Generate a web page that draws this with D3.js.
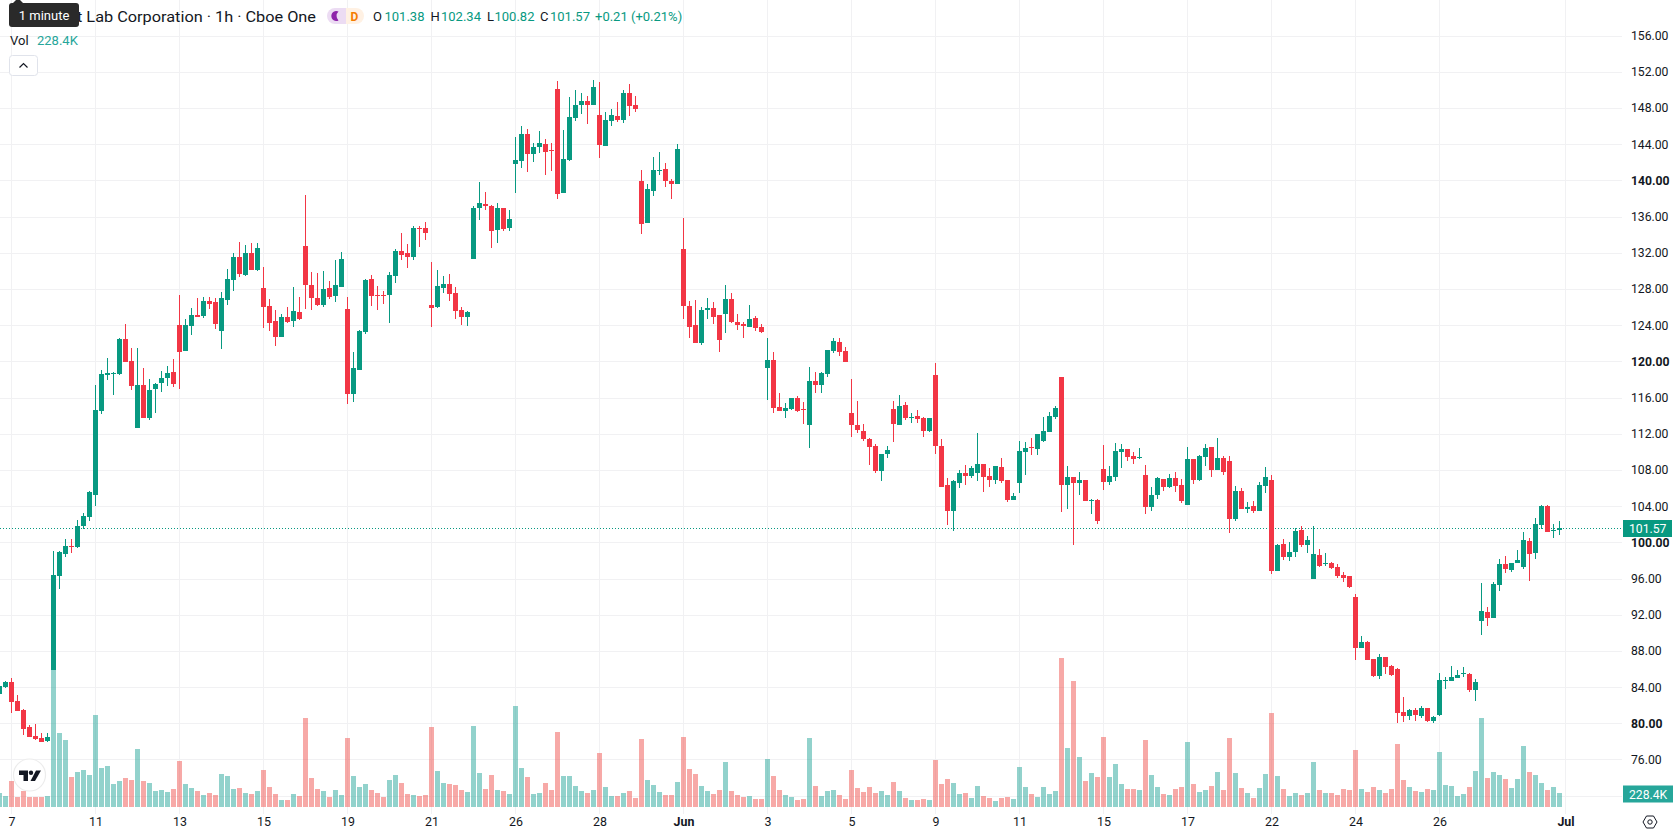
<!DOCTYPE html>
<html>
<head>
<meta charset="utf-8">
<script src="https://cdn.jsdelivr.net/npm/d3@7"></script>
<style>
  html, body { margin: 0; padding: 0; background: #fff; overflow: hidden; }
  svg { display: block; font-family: Roboto, sans-serif; }
</style>
</head>
<body>
<svg id="chart" width="1678" height="835"></svg>
<script>
// Hourly session candles, oldest first
const opens = [
  83.26,84.04,84.59,82.48,81.48,79.59,78.59,78.37,78.04,85.93,
  96.26,98.7,99.6,99.48,101.81,102.81,105.26,114.48,118.52,118.6,
  118.63,122.41,120.07,112.63,117.41,113.74,116.96,117.63,118.19,118.85,
  123.96,121.19,123.89,125.1,124.96,126.63,126.52,123.3,126.74,128.96,
  131.52,129.52,131.96,130.07,128.07,126.07,124.41,122.74,124.85,124.41,
  125.41,132.74,128.41,126.96,126.19,128.07,127.19,128.19,125.74,116.41,
  119.07,123.19,129.07,127.3,127.3,127.3,129.41,132.19,131.96,131.52,
  134.72,134.7,126.26,126.04,128.15,128.59,127.59,125.7,124.93,131.26,
  136.93,137.37,137.15,134.48,136.93,134.7,141.81,142.15,145.15,142.93,
  143.7,144.04,143.4,150.04,138.59,142.26,146.93,148.37,148.81,148.37,
  147.26,143.81,146.6,147.15,146.7,149.6,148.37,139.93,135.26,138.81,
  141.04,141.26,139.93,139.59,132.37,126.15,124.04,122.04,125.7,125.93,
  125.15,125.26,126.93,124.37,124.15,123.81,124.81,123.81,119.26,120.15,
  114.93,114.48,114.7,115.93,114.7,112.93,117.81,117.37,118.59,121.15,
  122.15,121.15,114.26,112.93,112.26,111.37,110.59,107.93,109.81,114.7,
  112.93,115.15,113.7,113.93,113.7,112.26,118.48,110.59,106.37,103.48,
  106.59,107.7,107.37,107.7,108.7,107.37,106.93,108.37,106.93,104.7,
  106.59,109.93,110.5,110.26,111.15,112.15,113.81,118.26,106.37,107.26,
  106.59,106.93,104.6,104.7,108.15,106.7,107.26,109.93,110.26,109.59,
  109.3,107.48,103.93,105.26,107.04,106.15,107.15,106.37,104.15,109.15,
  106.93,109.48,110.48,108.04,109.37,108.93,102.59,105.7,103.7,104.04,
  103.48,106.26,106.93,96.81,99.81,98.37,98.93,101.37,99.7,95.93,
  98.59,97.6,97.7,97.26,96.37,96.26,93.93,88.37,88.93,87.15,
  85.26,87.37,86.37,86.04,81.26,80.81,81.48,80.81,81.7,80.26,
  80.93,84.7,84.7,85.04,85.48,85.48,83.7,91.26,92.26,91.59,
  95.26,97.59,96.93,97.7,97.26,100.15,98.81,101.93,104.04,101.26,101.38
];
const closes = [
  84.15,84.59,82.37,81.37,79.37,78.48,78.26,77.93,78.48,96.37,
  98.93,99.59,99.5,101.81,102.93,105.59,114.59,118.59,118.74,118.7,
  122.41,119.96,117.3,117.41,113.74,116.85,117.52,118.19,118.74,117.52,
  121.07,123.96,125.1,124.89,126.63,126.3,124.07,126.96,129.07,131.52,
  129.63,131.96,130.07,132.52,125.96,124.19,122.74,124.85,124.3,125.52,
  124.63,128.41,126.96,126.19,127.96,127.07,128.41,131.3,116.41,119.3,
  123.3,128.96,127.19,127.19,127.19,129.52,132.19,131.74,131.52,134.7,
  134.62,134.15,125.93,128.37,128.59,127.48,125.59,124.93,125.48,136.93,
  137.48,137.15,134.37,136.93,134.59,135.7,142.26,145.15,142.93,143.7,
  144.15,143.15,143.3,138.48,142.37,147.04,148.37,148.81,148.37,150.26,
  143.93,146.7,147.26,146.7,149.7,148.26,147.93,135.15,139.04,141.15,
  141.15,139.93,139.59,143.48,126.15,123.81,122.04,125.7,125.93,124.93,
  122.37,126.93,124.37,124.04,123.93,124.7,123.7,123.26,120.15,114.81,
  114.48,114.81,115.93,114.48,114.6,117.81,117.37,118.7,121.26,122.26,
  121.04,119.93,112.93,112.37,111.37,110.48,107.93,109.81,110.15,113.04,
  115.04,113.7,113.81,113.59,112.26,113.7,110.59,106.15,103.48,106.81,
  107.7,107.37,108.26,108.7,107.26,106.93,108.48,106.81,104.7,105.15,
  110.04,110.37,110.4,111.93,112.26,113.93,114.81,106.37,107.26,106.59,
  106.93,104.59,104.7,102.37,106.7,107.37,110.04,110.26,109.48,109.15,
  109.4,103.93,105.26,107.15,106.15,107.15,106.26,104.59,109.15,106.93,
  109.59,110.37,108.04,109.26,107.81,102.59,105.7,103.7,103.93,103.48,
  106.37,107.26,96.81,99.7,98.37,98.93,101.26,99.7,100.26,98.7,
  97.37,97.7,97.15,96.26,96.04,95.04,88.37,88.93,87.04,85.26,
  87.37,86.26,85.37,81.15,80.81,81.48,80.93,81.7,80.26,80.7,
  84.81,84.81,85.15,85.37,85.6,83.7,84.59,92.37,91.59,95.37,
  97.59,97.04,97.7,98.04,100.26,98.7,102.04,104.04,101.15,101.37,101.57
];
const highs = [
  84.2,84.62,85.04,83.15,81.59,79.81,79.93,78.93,78.93,99.04,
  99.04,100.37,100.37,102.48,103.26,105.7,117.37,119.04,120.41,118.8,
  122.52,124.07,121.52,121.52,119.3,118.07,117.6,118.96,119.52,120.3,
  127.3,124.63,125.89,126.96,127.07,127.07,126.96,127.63,130.19,131.96,
  133.19,132.85,133.07,133.07,130.4,126.85,125.63,125.19,125.96,128.19,
  127.07,138.4,129.85,129.74,129.96,128.85,131.19,132.07,127.07,121.07,
  123.41,129.07,129.52,128.3,127.74,129.85,132.41,134.19,132.96,135.0,
  135.0,135.37,130.93,130.04,129.48,129.7,128.26,126.04,125.6,137.15,
  139.81,138.7,137.26,137.48,136.93,136.7,144.8,146.04,145.7,144.15,
  145.48,144.6,144.15,150.93,145.59,149.15,149.93,149.7,149.26,151.04,
  150.81,147.6,147.93,148.6,149.93,150.6,149.26,141.15,139.59,142.59,
  143.15,141.93,140.15,144.04,135.81,126.7,126.81,126.04,127.04,126.6,
  125.15,128.48,127.6,125.26,124.37,126.26,125.04,124.15,122.59,121.04,
  116.48,115.37,115.93,116.15,115.48,119.37,118.81,118.81,121.26,122.59,
  122.59,121.59,118.04,115.59,113.04,111.48,110.81,109.81,110.59,115.59,
  116.26,115.48,114.26,114.59,113.81,113.7,119.81,111.4,107.15,106.93,
  108.04,108.59,108.48,112.04,108.7,108.26,108.48,109.37,106.93,105.48,
  111.15,111.04,111.48,111.93,113.81,114.37,115.04,118.26,108.48,107.26,
  107.8,106.93,104.8,104.81,110.7,108.48,110.93,110.81,110.3,109.93,
  110.37,108.59,106.15,107.26,107.04,107.59,107.81,107.04,110.48,109.15,
  109.7,110.81,110.48,111.48,109.59,109.59,106.26,106.04,104.48,104.59,
  106.7,108.37,107.48,99.81,100.37,100.04,101.59,101.81,100.7,101.81,
  99.26,98.81,97.81,97.59,96.7,96.26,94.26,89.7,89.04,87.15,
  87.7,87.37,86.48,86.15,82.93,81.6,81.7,81.93,81.7,80.81,
  85.6,85.15,86.37,85.93,86.26,85.6,84.93,95.48,92.81,95.59,
  98.15,98.48,97.7,99.15,101.15,100.48,102.7,104.15,104.15,102.04,102.34
];
const lows = [
  83.2,83.93,81.19,81.37,78.7,78.48,78.15,77.93,77.93,85.9,
  94.81,98.37,98.81,99.37,101.5,102.37,104.04,114.15,117.96,116.3,
  118.52,119.96,116.85,112.63,113.74,113.52,114.3,116.63,117.3,117.19,
  116.96,121.19,122.89,124.89,124.74,125.74,123.52,121.41,126.19,127.74,
  129.3,129.41,130.07,129.96,123.63,123.3,121.74,122.63,124.19,123.74,
  124.52,125.74,125.63,126.07,125.96,126.85,126.52,128.19,115.3,115.52,
  119.07,123.07,126.07,125.63,126.3,124.19,128.63,131.19,130.3,131.19,
  132.67,133.37,123.81,125.93,127.59,126.7,124.7,124.04,123.93,131.26,
  135.59,136.7,132.48,133.04,134.37,134.37,138.6,141.37,140.93,142.04,
  143.04,140.6,141.04,137.93,138.59,142.15,146.6,147.37,146.26,148.37,
  142.48,143.81,146.04,146.48,146.37,147.15,147.6,134.04,135.26,138.26,
  140.6,139.26,137.93,139.59,124.7,122.6,122.04,121.81,124.7,124.15,
  121.04,123.15,124.26,123.48,122.6,123.81,123.37,123.15,115.7,114.26,
  114.48,113.7,114.59,114.37,113.04,110.37,116.48,116.48,118.26,120.93,
  120.59,119.93,111.59,112.04,111.15,108.59,107.7,106.81,109.26,111.04,
  112.93,113.48,113.15,113.15,111.59,112.15,109.81,106.15,101.93,101.26,
  106.04,106.37,107.15,106.81,105.59,106.15,106.48,106.59,104.48,104.7,
  105.48,107.48,109.7,109.7,111.04,112.15,113.59,103.37,103.7,99.7,
  105.26,104.59,103.15,102.04,105.81,106.37,106.81,108.26,108.93,108.7,
  109.15,103.15,103.48,104.81,105.7,106.04,105.59,104.37,104.15,106.48,
  106.81,108.48,107.26,108.04,107.48,101.04,102.37,103.7,103.26,103.26,
  103.48,105.48,96.48,96.81,98.04,97.93,98.37,99.48,98.81,95.93,
  97.26,97.37,97.04,96.04,95.59,94.93,87.04,88.37,87.04,85.15,
  84.93,85.48,85.26,80.04,80.15,80.37,80.26,80.6,80.15,80.04,
  80.81,83.81,84.7,85.04,85.15,83.48,82.48,89.81,90.7,91.59,
  94.59,96.59,96.7,97.7,97.04,95.7,98.15,101.48,101.15,100.48,100.82
];
// Traded volume per candle, in thousands of shares
const volumes = [
  228,180,424,163,261,163,163,163,180,2252,
  1208,1093,490,571,604,522,1501,636,669,375,
  424,473,441,947,424,392,261,277,245,294,
  751,375,310,261,196,228,196,539,506,294,
  310,228,212,261,604,326,212,114,114,212,
  180,1452,473,294,261,163,277,196,1126,506,
  326,375,277,228,163,441,522,392,212,196,
  180,196,1306,588,392,375,359,277,245,1322,
  555,294,522,277,261,212,1648,636,490,212,
  228,392,277,1224,506,506,343,261,228,277,
  881,326,180,180,228,261,147,1110,441,359,
  245,196,196,408,1142,620,539,343,261,212,
  277,734,261,196,163,180,131,131,783,506,
  277,196,163,114,131,1126,343,180,261,277,
  196,131,604,310,245,326,228,261,196,408,
  261,147,114,114,131,114,767,375,457,392,
  212,228,147,343,180,147,98,147,163,131,
  653,326,212,163,326,212,261,2432,963,2056,
  816,424,555,490,1142,490,702,375,294,294,
  277,1093,522,326,212,196,294,326,1061,375,
  245,277,343,571,277,1126,555,310,228,147,
  310,539,1534,506,294,180,228,196,228,734,
  277,228,228,196,294,277,930,294,245,326,
  277,228,294,1028,441,326,261,245,294,277,
  898,359,343,180,212,326,588,1452,473,571,
  522,457,310,457,996,571,522,392,277,326,228.4
];

// Axis ticks
const priceTicks = [156,152,148,144,140,136,132,128,124,120,116,112,108,104,100,96,92,88,84,80,76];
const hiddenGridPrices = [72];
const boldPrices = [140,120,100,80];
const timeTickCandles = [2,16,30,44,58,72,86,100,114,128,142,156,170,184,198,212,226,240,261];
const timeTickLabels = ["7","11","13","15","19","21","26","28","Jun","3","5","9","11","15","17","22","24","26","Jul"];
const boldTimeLabels = ["Jun","Jul"];

const lastPrice = 101.57;
const lastVolumeText = "228.4K";
const seriesTitle = "t Lab Corporation \u00b7 1h \u00b7 Cboe One";
const ohlcLegend = [
  { k: "O", v: "101.38", kx: 373, vx: 384.5 },
  { k: "H", v: "102.34", kx: 430.5, vx: 441 },
  { k: "L", v: "100.82", kx: 487, vx: 494.5 },
  { k: "C", v: "101.57", kx: 540, vx: 550 }
];
const changeText = "+0.21 (+0.21%)";

const UP = "#089981", DOWN = "#f23645";
const VOL_UP = "#26a69a", VOL_DOWN = "#ef5350";
const GRID = "#f1f1f3", INK = "#131722";

const svg = d3.select("#chart");
const candles = d3.range(opens.length).map(i => ({
  i, o: opens[i], h: highs[i], l: lows[i], c: closes[i], v: volumes[i], up: closes[i] >= opens[i]
}));

const PANE_RIGHT = 1622, PANE_BOTTOM = 814;
const x = d3.scaleLinear().domain([0, 1]).range([-0.5, 5.5]);
const y = d3.scaleLinear().domain([80, 156]).range([723.3, 35.5]);
const v = d3.scaleLinear().domain([0, 228.4]).range([807, 793]);
const snap = p => Math.round(p);

// Grid and axes
const gridG = svg.append("g");
gridG.selectAll("line.h").data(priceTicks.concat(hiddenGridPrices)).join("line")
  .attr("x1", 0).attr("x2", PANE_RIGHT)
  .attr("y1", d => snap(y(d)) + 0.5).attr("y2", d => snap(y(d)) + 0.5)
  .attr("stroke", GRID);
gridG.selectAll("line.v").data(timeTickCandles).join("line")
  .attr("x1", d => Math.floor(x(d)) + 0.5).attr("x2", d => Math.floor(x(d)) + 0.5)
  .attr("y1", 0).attr("y2", PANE_BOTTOM)
  .attr("stroke", GRID);

const priceAxis = d3.axisRight(y).tickValues(priceTicks).tickSize(0).tickPadding(0)
  .tickFormat(d3.format(".2f"));
const priceG = svg.append("g").attr("transform", "translate(1631,0)").call(priceAxis);
priceG.select(".domain").remove();
priceG.selectAll("text")
  .attr("font-family", "Roboto, sans-serif").attr("font-size", 12.2)
  .attr("fill", INK)
  .attr("font-weight", d => boldPrices.includes(d) ? 700 : 400);

const timeAxis = d3.axisBottom(x).tickValues(timeTickCandles).tickSize(0).tickPadding(0)
  .tickFormat((d, i) => timeTickLabels[i]);
const timeG = svg.append("g").attr("transform", "translate(0,817)").call(timeAxis);
timeG.select(".domain").remove();
timeG.selectAll("text")
  .attr("font-family", "Roboto, sans-serif").attr("font-size", 12.4)
  .attr("fill", INK)
  .attr("font-weight", (d, i) => boldTimeLabels.includes(timeTickLabels[i]) ? 700 : 400);

// Volume histogram
svg.append("g").selectAll("rect").data(candles).join("rect")
  .attr("x", d => Math.floor(x(d.i)) - 2)
  .attr("width", 5)
  .attr("y", d => snap(v(d.v)))
  .attr("height", d => 807 - snap(v(d.v)))
  .attr("fill", d => d.up ? VOL_UP : VOL_DOWN)
  .attr("opacity", 0.5);

// Last price line
svg.append("line")
  .attr("x1", 0).attr("x2", PANE_RIGHT)
  .attr("y1", snap(y(lastPrice)) + 0.5).attr("y2", snap(y(lastPrice)) + 0.5)
  .attr("stroke", UP).attr("stroke-dasharray", "1 2");

// Candles
const candleG = svg.append("g").attr("shape-rendering", "crispEdges");
candleG.selectAll("rect.wick").data(candles).join("rect")
  .attr("class", "wick")
  .attr("x", d => Math.floor(x(d.i)))
  .attr("width", 1)
  .attr("y", d => snap(y(d.h)))
  .attr("height", d => Math.max(1, snap(y(d.l)) - snap(y(d.h))))
  .attr("fill", d => d.up ? UP : DOWN);
candleG.selectAll("rect.body").data(candles).join("rect")
  .attr("class", "body")
  .attr("x", d => Math.floor(x(d.i)) - 2)
  .attr("width", 5)
  .attr("y", d => snap(y(Math.max(d.o, d.c))))
  .attr("height", d => Math.max(1, snap(y(Math.min(d.o, d.c))) - snap(y(Math.max(d.o, d.c)))))
  .attr("fill", d => d.up ? UP : DOWN);

// Axis value tags
function tag(cy, fill, label, right) {
  svg.append("rect").attr("x", 1623).attr("y", cy - 8.5).attr("width", right - 1623).attr("height", 17)
    .attr("fill", fill);
  svg.append("text").attr("x", 1629).attr("y", cy + 4.5)
    .attr("font-size", 12.2).attr("fill", "#fff").text(label);
}
tag(snap(y(lastPrice)) + 0.5, UP, d3.format(".2f")(lastPrice), 1672);
tag(snap(v(volumes[volumes.length - 1])) + 1, VOL_UP, lastVolumeText, 1673);

// Legend block
const legend = svg.append("g").attr("font-size", 13);
legend.append("text").attr("x", 77).attr("y", 21.8).attr("font-size", 15.5).attr("fill", INK)
  .attr("textLength", 239).attr("lengthAdjust", "spacingAndGlyphs").text(seriesTitle);

legend.append("path").attr("d", "M335 8H346V24H335A8 8 0 0 1 335 8Z").attr("fill", "#ecdcf3");
legend.append("path").attr("d", "M346 8H356A8 8 0 0 1 356 24H346Z").attr("fill", "#fff1e3");
legend.append("path").attr("d", "M338.5 11.5A5 5 0 1 0 338.5 20.5A6.2 6.2 0 0 1 338.5 11.5Z").attr("fill", "#8e24aa");
legend.append("text").attr("x", 350.5).attr("y", 20.5).attr("font-size", 12).attr("font-weight", 700)
  .attr("fill", "#f57c00").text("D");

ohlcLegend.forEach(d => {
  legend.append("text").attr("x", d.kx).attr("y", 20.5).attr("fill", INK).text(d.k);
  legend.append("text").attr("x", d.vx).attr("y", 20.5).attr("fill", UP).text(d.v);
});
legend.append("text").attr("x", 595).attr("y", 20.5).attr("fill", UP).text(changeText);

legend.append("text").attr("x", 10).attr("y", 45).attr("fill", INK).text("Vol");
legend.append("text").attr("x", 37).attr("y", 45).attr("fill", VOL_UP).text(lastVolumeText);

// Collapse button
svg.append("rect").attr("x", 9.5).attr("y", 55.5).attr("width", 28).attr("height", 20).attr("rx", 3)
  .attr("fill", "#fff").attr("stroke", "#e0e3eb");
svg.append("path").attr("d", "M19.5 67.5L23.5 63.5L27.5 67.5").attr("fill", "none")
  .attr("stroke", INK).attr("stroke-width", 1.2);

// Hover tooltip
svg.append("path").attr("d", "M13 3L18 -2L23 3Z").attr("fill", "#2a2a2a");
svg.append("rect").attr("x", 9).attr("y", 3).attr("width", 70).attr("height", 24).attr("rx", 3)
  .attr("fill", "#2a2a2a");
svg.append("text").attr("x", 44).attr("y", 19.5).attr("text-anchor", "middle")
  .attr("font-size", 13).attr("fill", "#fff").text("1 minute");

// Watermark badge
svg.append("circle").attr("cx", 29.5).attr("cy", 775).attr("r", 16)
  .attr("fill", "#fff").attr("stroke", "#ececec").attr("stroke-width", 1.2);
svg.append("path").attr("d", "M19 770.5H28V781H23.5V775H19Z").attr("fill", "#131722");
svg.append("circle").attr("cx", 31).attr("cy", 772.7).attr("r", 2.2).attr("fill", "#131722");
svg.append("path").attr("d", "M36 770.5H41L35 781H30.5Z").attr("fill", "#131722");

// Chart settings glyph
svg.append("path").attr("d", "M1643 822L1646.5 816H1653.5L1657 822L1653.5 828H1646.5Z")
  .attr("fill", "none").attr("stroke", INK);
svg.append("circle").attr("cx", 1650).attr("cy", 822).attr("r", 2.2)
  .attr("fill", "none").attr("stroke", INK);
</script>
</body>
</html>
